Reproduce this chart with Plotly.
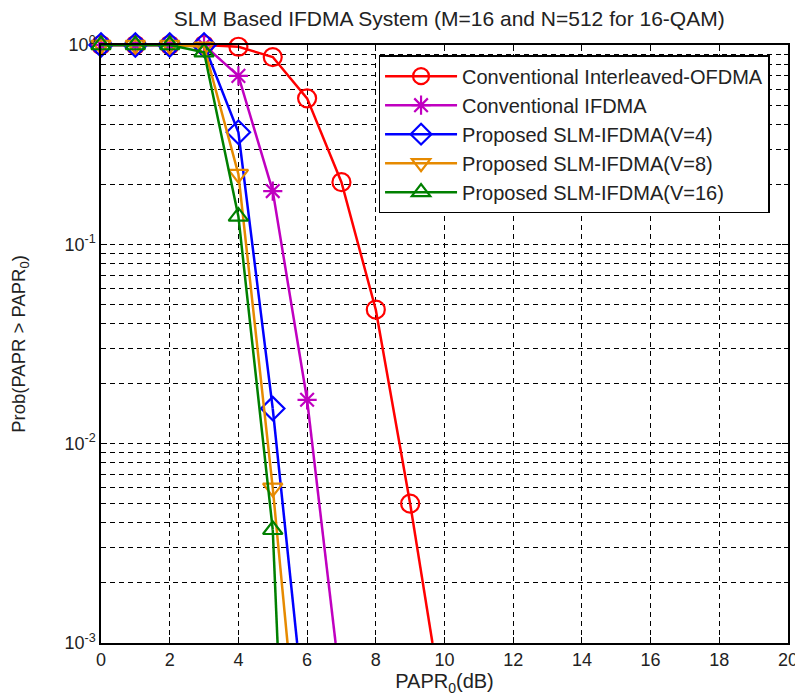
import plotly.graph_objects as go

# ---- data ----
ofdma_x = [0, 1, 2, 3, 4, 5, 6, 7, 8, 9]
ofdma_y = [1.0, 1.0, 1.0, 1.0, 0.98, 0.87, 0.54, 0.205, 0.047, 0.005]
ofdma_end = (9.65, 0.001)

ifdma_x = [0, 1, 2, 3, 4, 5, 6]
ifdma_y = [1.0, 1.0, 1.0, 1.0, 0.70, 0.185, 0.0166]
ifdma_end = (6.83, 0.001)

v4_x = [0, 1, 2, 3, 4, 5]
v4_y = [1.0, 1.0, 1.0, 1.0, 0.365, 0.015]
v4_end = (5.71, 0.001)

v8_x = [0, 1, 2, 3, 4, 5]
v8_y = [1.0, 1.0, 1.0, 0.98, 0.225, 0.006]
v8_end = (5.43, 0.001)

v16_x = [0, 1, 2, 3, 4, 5]
v16_y = [1.0, 1.0, 1.0, 0.92, 0.138, 0.0037]
v16_end = (5.14, 0.001)

names = ["Conventional Interleaved-OFDMA", "Conventional IFDMA",
         "Proposed SLM-IFDMA(V=4)", "Proposed SLM-IFDMA(V=8)",
         "Proposed SLM-IFDMA(V=16)"]
colors = ["#ff0000", "#c000c0", "#0000ff", "#e68a00", "#008000"]
symbols = ["circle-open", "asterisk-open", "diamond-open",
           "triangle-down-open", "triangle-up-open"]
sizes = [18, 16, 18, 17, 17]

series = [(ofdma_x, ofdma_y, ofdma_end), (ifdma_x, ifdma_y, ifdma_end),
          (v4_x, v4_y, v4_end), (v8_x, v8_y, v8_end), (v16_x, v16_y, v16_end)]

x_ticks = list(range(0, 21, 2))
y_tickvals = [1e-3, 1e-2, 1e-1, 1]
y_ticktext = ["10<sup>-3</sup>", "10<sup>-2</sup>", "10<sup>-1</sup>", "10<sup>0</sup>"]

fig = go.Figure()
for (xs, ys, end), nm, c, s, sz in zip(series, names, colors, symbols, sizes):
    # tail of the curve down to the axis floor
    fig.add_trace(go.Scatter(x=[xs[-1], end[0]], y=[ys[-1], end[1]], mode="lines",
                             line=dict(color=c, width=2.5), showlegend=False,
                             cliponaxis=True, hoverinfo="skip"))
    fig.add_trace(go.Scatter(x=xs, y=ys, mode="lines+markers", name=nm,
                             line=dict(color=c, width=2.5),
                             marker=dict(symbol=s, size=sz, color=c,
                                         line=dict(color=c, width=2.2)),
                             cliponaxis=False))

grid_dash = "5px,4px"
# page body adds an 8px offset, so the figure is 8px smaller and margins shifted
fig.update_layout(
    width=795, height=692,
    margin=dict(l=93, r=15, t=37, b=57),
    paper_bgcolor="white", plot_bgcolor="white",
    font=dict(family="Liberation Sans, Arial", size=18, color="#222"),
    title=dict(text="SLM Based IFDMA System (M=16 and N=512 for 16-QAM)",
               x=0.555, xanchor="center", y=0.985, yanchor="middle",
               font=dict(size=21, color="#222")),
    legend=dict(x=0.404, y=0.983, xanchor="left", yanchor="top",
                bgcolor="white", bordercolor="black", borderwidth=1.5,
                font=dict(size=20, color="#222"), itemwidth=72,
                tracegroupgap=0),
    showlegend=True,
)
fig.update_xaxes(range=[0, 20], tickvals=x_ticks, showline=True, linecolor="black",
                 linewidth=1.5, mirror="ticks", ticks="inside", ticklen=6,
                 tickcolor="black", showgrid=True, gridcolor="black",
                 griddash=grid_dash, gridwidth=1, zeroline=False, automargin=False,
                 tickfont=dict(size=18),
                 title=dict(text="PAPR<sub>0</sub>(dB)", font=dict(size=20), standoff=2))
fig.update_yaxes(type="log", range=[-3, 0], tickvals=y_tickvals, ticktext=y_ticktext,
                 showline=True, linecolor="black", linewidth=1.5, mirror="ticks",
                 ticks="inside", ticklen=6, tickcolor="black",
                 showgrid=True, gridcolor="black", griddash=grid_dash, gridwidth=1,
                 zeroline=False, automargin=False, tickfont=dict(size=18),
                 minor=dict(dtick="D1", showgrid=True, gridcolor="black",
                            griddash=grid_dash, gridwidth=1, ticks="inside",
                            ticklen=4, tickcolor="black"),
                 title=dict(text="Prob(PAPR > PAPR<sub>0</sub>)", font=dict(size=18.5),
                            standoff=36))

fig.write_html("out.html")
